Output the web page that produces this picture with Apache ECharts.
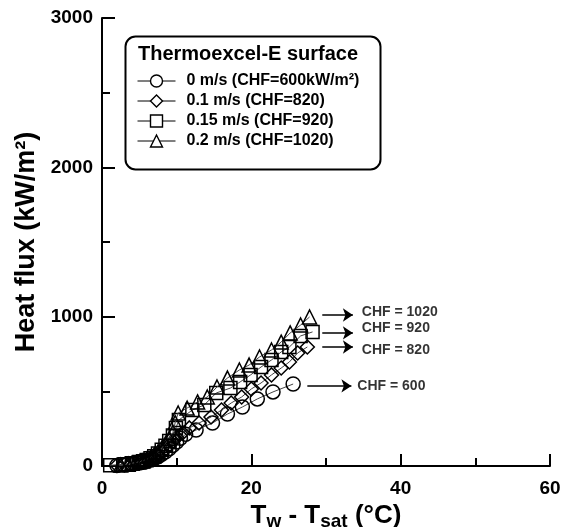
<!DOCTYPE html>
<html>
<head>
<meta charset="utf-8">
<script src="https://cdn.jsdelivr.net/npm/echarts@6/dist/echarts.min.js"></script>
<style>html,body{margin:0;padding:0;background:#fff}#c{width:572px;height:527px}</style>
</head>
<body>
<div id="c"></div>
<script>
// ---- data ----
const seriesNames = ['0 m/s (CHF=600kW/m\u00B2)', '0.1 m/s (CHF=820)', '0.15 m/s (CHF=920)', '0.2 m/s (CHF=1020)'];
const circleX = [2,3,4,5,5.5,6,6.5,7,7.5,8,8.5,9,9.5,10,10.5,11.2,12.6,14.8,16.8,18.8,20.8,22.9,25.6];
const circleY = [4,8,14,20,25,32,40,50,62,78,95,115,138,160,185,212,241,288,348,395,449,496,549];
const diamondX = [2,3,4,5,5.5,6,6.5,7,7.5,8,8.5,9,9.5,10,10.8,11.7,13.0,14.6,16.0,17.3,18.7,20.0,21.3,22.7,24.0,25.1,26.2,27.5];
const diamondY = [5,9,15,22,28,36,46,58,72,90,112,138,165,192,222,255,288,328,375,422,462,516,556,610,656,697,757,797];
const squareX = [1.1,3,4,5,5.5,6,6.5,7,7.5,8,8.5,9,9.5,9.9,10.3,12.1,13.7,15.3,17.2,18.5,19.9,21.3,22.7,24.0,25.1,26.6,28.2];
const squareY = [5,12,18,26,32,40,52,66,84,108,135,168,205,255,308,375,409,489,522,563,610,663,710,764,797,871,898];
const triX = [2.5,3.5,4,5,5.5,6,6.5,7,7.5,8,8.5,9,9.5,9.8,10.2,11.4,12.8,14.1,15.4,16.8,18.4,19.7,21.1,22.7,24.0,25.2,26.6,27.8];
const triY = [6,12,18,28,35,45,58,75,95,120,150,185,225,290,355,388,429,462,529,589,643,676,730,777,830,891,944,998];
// annotations
const annText = ['CHF = 1020', 'CHF = 920', 'CHF = 820', 'CHF = 600'];
const annArrowY = [1011, 891, 797, 536];
const annArrowX0 = [29.5, 29.5, 29.5, 27.5];
const annArrowX1 = [33.6, 33.6, 33.6, 33.4];
const annTextX = [34.8, 34.8, 34.8, 34.2];
const annTextY = [1031, 924, 777, 536];
const legendTitle = 'Thermoexcel-E surface';

const FONT = 'Liberation Sans, Arial, sans-serif';
const zip = (xs, ys) => xs.map((x, i) => [x, ys[i]]);
const symbols = ['circle', 'diamond', 'rect', 'triangle'];
const sizes = [14, 14, 13, 14];
const datas = [zip(circleX, circleY), zip(diamondX, diamondY), zip(squareX, squareY), zip(triX, triY)];

const series = datas.map((d, i) => ({
  name: seriesNames[i],
  type: 'line',
  data: d,
  symbol: symbols[i],
  symbolSize: sizes[i],
  showAllSymbol: true,
  lineStyle: { color: '#444', width: 1 },
  itemStyle: { color: 'rgba(255,255,255,0)', borderColor: '#000', borderWidth: 1.5 },
  emphasis: { disabled: true },
  z: 2 + i
}));

series.push({
  name: 'arrows',
  type: 'line',
  data: [],
  markLine: {
    silent: true,
    symbol: ['none', 'arrow'],
    symbolSize: 10,
    lineStyle: { color: '#000', width: 1.5, type: 'solid' },
    label: { show: false },
    emphasis: { disabled: true },
    data: annArrowY.map((y, i) => [{ coord: [annArrowX0[i], y] }, { coord: [annArrowX1[i], y] }])
  }
});
series.push({
  name: 'annot',
  type: 'scatter',
  symbolSize: 0,
  data: annText.map((t, i) => ({ value: [annTextX[i], annTextY[i]], name: t })),
  label: {
    show: true, position: 'right', distance: 0,
    formatter: p => p.name,
    color: '#000', fontFamily: FONT, fontWeight: 'bold', fontSize: 14
  },
  silent: true
});

const chart = echarts.init(document.getElementById('c'), null, { renderer: 'canvas' });
chart.setOption({
  animation: false,
  backgroundColor: '#fff',
  grid: { left: 102, right: 22, top: 18, bottom: 61, containLabel: false, outerBoundsMode: 'none' },
  xAxis: {
    type: 'value', min: 0, max: 60, interval: 20,
    axisLine: { onZero: false, lineStyle: { color: '#000', width: 2 } },
    axisTick: { inside: true, length: 12, lineStyle: { color: '#000', width: 2 } },
    minorTick: { show: true, splitNumber: 2, length: 8, lineStyle: { color: '#000', width: 2 } },
    splitLine: { show: false },
    axisLabel: { color: '#000', fontFamily: FONT, fontWeight: 'bold', fontSize: 19, margin: 13 },
    name: '{a|T}{b|w}{a| - T}{b|sat}{a| (\u00B0C)}',
    nameLocation: 'middle', nameGap: 35,
    nameTextStyle: {
      rich: {
        a: { fontFamily: FONT, fontWeight: 'bold', fontSize: 26, color: '#000', verticalAlign: 'bottom' },
        b: { fontFamily: FONT, fontWeight: 'bold', fontSize: 19, color: '#000', verticalAlign: 'bottom', padding: [0, 0, -2, 0] }
      }
    }
  },
  yAxis: {
    type: 'value', min: 0, max: 3000, interval: 1000,
    axisLine: { onZero: false, lineStyle: { color: '#000', width: 2 } },
    axisTick: { inside: true, length: 13, lineStyle: { color: '#000', width: 2 } },
    minorTick: { show: true, splitNumber: 2, length: 8, lineStyle: { color: '#000', width: 2 } },
    splitLine: { show: false },
    axisLabel: { color: '#000', fontFamily: FONT, fontWeight: 'bold', fontSize: 19, margin: 9, formatter: v => String(v) },
    name: 'Heat flux (kW/m\u00B2)',
    nameLocation: 'middle', nameGap: 62,
    nameTextStyle: { fontFamily: FONT, fontWeight: 'bold', fontSize: 27, color: '#000' }
  },
  legend: {
    data: seriesNames,
    orient: 'vertical',
    left: 137, top: 73,
    itemWidth: 38, itemHeight: 15, itemGap: 4,
    padding: 0,
    selectedMode: false,
    textStyle: { color: '#000', fontFamily: FONT, fontWeight: 'bold', fontSize: 16, lineHeight: 16, padding: [0, 0, 0, 6] },
    lineStyle: { color: '#000', width: 1 },
    itemStyle: { color: '#fff', borderColor: '#000', borderWidth: 1.4 }
  },
  graphic: [
    {
      type: 'rect', left: 123, top: 34, z: 100,
      shape: { width: 255, height: 133, r: 10 },
      style: { fill: 'none', stroke: '#000', lineWidth: 2 }
    },
    {
      type: 'text', left: 138, top: 44, z: 100,
      style: { text: legendTitle, fill: '#000', font: 'bold 20px ' + FONT }
    }
  ],
  series: series
});
</script>
</body>
</html>
